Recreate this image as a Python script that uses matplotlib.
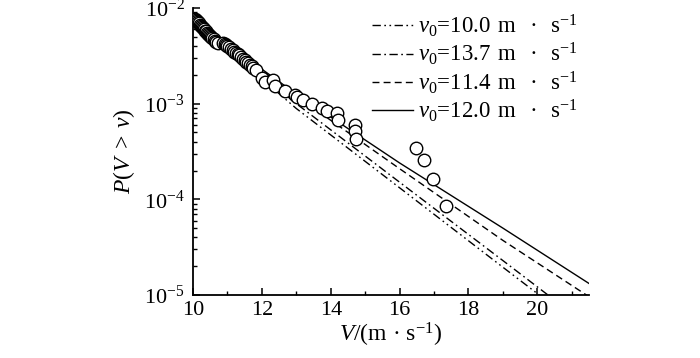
import numpy as np
import matplotlib
matplotlib.use("Agg")
import matplotlib.pyplot as plt
from matplotlib.ticker import MultipleLocator, LogLocator, NullFormatter

plt.rcParams['font.family'] = ['Liberation Serif', 'DejaVu Serif']
plt.rcParams['mathtext.fontset'] = 'custom'
plt.rcParams['mathtext.rm'] = 'Liberation Serif'
plt.rcParams['mathtext.it'] = 'Liberation Serif:italic'
plt.rcParams['mathtext.bf'] = 'Liberation Serif:bold'

# observed exceedance data
obs_v = [10.05, 10.08, 10.11, 10.14, 10.17, 10.20, 10.23, 10.26, 10.29, 10.32,
         10.35, 10.38, 10.41, 10.44, 10.47, 10.50, 10.53, 10.56, 10.60, 10.64,
         10.68, 10.74,
         10.88, 10.92, 10.96, 11.00, 11.05, 11.10, 11.15, 11.20, 11.25, 11.30,
         11.35, 11.40, 11.45, 11.50, 11.55, 11.60, 11.65, 11.70, 11.75, 11.83,
         12.00, 12.09, 12.32, 12.38, 12.67, 12.96, 13.01, 13.19, 13.45, 13.74,
         13.88, 14.17, 14.20, 14.70, 14.70, 14.72, 16.49, 16.70, 16.96, 17.36]
obs_p = [7.7e-3, 7.5e-3, 7.3e-3, 7.1e-3, 6.9e-3, 6.7e-3, 6.5e-3, 6.3e-3, 6.2e-3, 6.0e-3,
         5.8e-3, 5.7e-3, 5.5e-3, 5.4e-3, 5.2e-3, 5.1e-3, 5.0e-3, 4.8e-3, 4.7e-3, 4.5e-3,
         4.4e-3, 4.3e-3,
         4.3e-3, 4.2e-3, 4.1e-3, 4.0e-3, 3.9e-3, 3.75e-3, 3.6e-3, 3.5e-3, 3.4e-3, 3.3e-3,
         3.2e-3, 3.05e-3, 2.95e-3, 2.85e-3, 2.75e-3, 2.65e-3, 2.55e-3, 2.45e-3, 2.35e-3, 2.25e-3,
         1.87e-3, 1.69e-3, 1.78e-3, 1.54e-3, 1.36e-3, 1.24e-3, 1.18e-3, 1.10e-3, 1.00e-3, 9.1e-4,
         8.3e-4, 7.9e-4, 6.8e-4, 6.0e-4, 5.2e-4, 4.3e-4, 3.4e-4, 2.55e-4, 1.65e-4, 8.5e-5]

# fitted curves
fit_v = [10.0, 13.0, 16.0, 19.0, 21.5]
fit_p_100 = [7.6e-3, 8.9e-4, 1.32e-4, 1.95e-5, 4.0e-6]
fit_p_137 = [7.6e-3, 1.0e-3, 1.51e-4, 2.29e-5, 4.7e-6]
fit_p_114 = [7.6e-3, 1.2e-3, 2.09e-4, 3.72e-5, 9.6e-6]
fit_p_120 = [7.6e-3, 1.26e-3, 2.4e-4, 5.0e-5, 1.32e-5]

v0_values = ['10.0', '13.7', '11.4', '12.0']
labels = [r'$v_0$=' + v + r'$\enspace$m$\ \enspace$·$\ \enspace$s$^{-1}$' for v in v0_values]

fig = plt.figure(figsize=(7, 3.58), dpi=100)
ax = fig.add_axes([193/700, 63/358, 396/700, 287/358])

lw = 1.0
ax.plot(fit_v, fit_p_100, color='black', lw=lw, dashes=[6, 2.5, 1.2, 2.5, 1.2, 2.5], label=labels[0])
ax.plot(fit_v, fit_p_137, color='black', lw=lw, dashes=[6, 2.5, 1.2, 2.5], label=labels[1])
ax.plot(fit_v, fit_p_114, color='black', lw=lw, dashes=[5, 3], label=labels[2])
ax.plot(fit_v, fit_p_120, color='black', lw=lw, linestyle='-', label=labels[3])
ax.plot(obs_v, obs_p, linestyle='none', marker='o', markersize=9,
        markerfacecolor='white', markeredgecolor='black', markeredgewidth=1.0, zorder=5)

ax.set_yscale('log')
ax.set_xlim(10, 21.5)
ax.set_ylim(1e-5, 1e-2)
ax.xaxis.set_major_locator(MultipleLocator(2))
ax.xaxis.set_minor_locator(MultipleLocator(1))
ax.yaxis.set_major_locator(LogLocator(base=10, numticks=10))
ax.yaxis.set_minor_locator(LogLocator(base=10, subs=np.arange(2, 10), numticks=20))
ax.yaxis.set_minor_formatter(NullFormatter())

for s in ['top', 'right']:
    ax.spines[s].set_visible(False)
for s in ['left', 'bottom']:
    ax.spines[s].set_linewidth(1.3)

ax.tick_params(which='major', direction='in', length=5, width=1.1, labelsize=16, pad=4)
ax.tick_params(which='minor', direction='in', length=3, width=1.0)
ax.tick_params(axis='y', which='major', pad=6)

ax.set_xlabel(r'$V$/(m · s$^{-1}$)', fontsize=17, labelpad=1)
ax.set_ylabel(r'$P(V\;>\;v)$', fontsize=17, labelpad=5)

leg = ax.legend(loc='upper left', bbox_to_anchor=(0.452, 0.984), frameon=False,
                fontsize=16.5, handlelength=1.8, handletextpad=0.2,
                labelspacing=0.08, borderpad=0, borderaxespad=0)

fig.savefig('out.png', dpi=100)
